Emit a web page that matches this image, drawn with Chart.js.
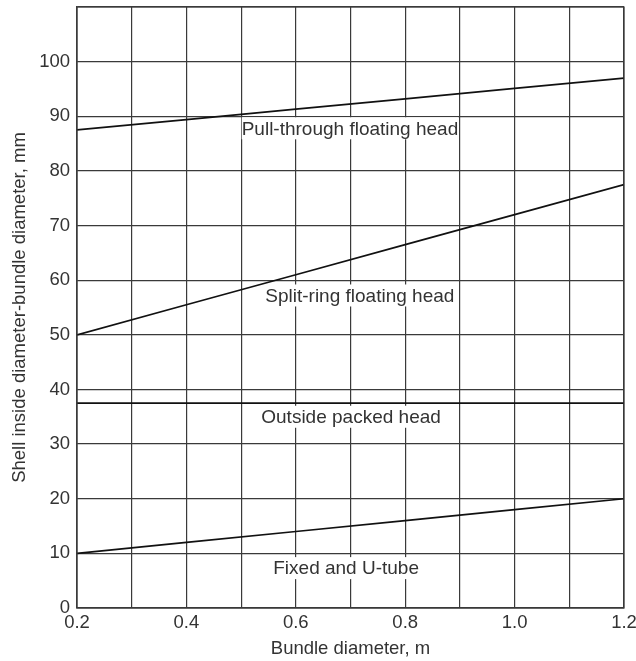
<!DOCTYPE html>
<html>
<head>
<meta charset="utf-8">
<script src="https://cdn.jsdelivr.net/npm/chart.js@4.4.1/dist/chart.umd.min.js"></script>
<style>
  html, body { margin: 0; padding: 0; background: #fff; }
  #wrap { width: 636px; height: 661px; }
</style>
</head>
<body>
<div id="wrap"><canvas id="chart" width="636" height="661"></canvas></div>
<script>
// Bundle diameter, m
const bundleDiameter = [0.2, 0.4, 0.6, 0.8, 1.0, 1.2];

// Shell inside diameter minus bundle diameter, mm
const pullThrough = [87.5, 89.4, 91.3, 93.2, 95.1, 97.0];
const splitRing = [50.0, 55.5, 61.0, 66.5, 72.0, 77.5];
const outsidePacked = [37.5, 37.5, 37.5, 37.5, 37.5, 37.5];
const fixedUTube = [10.0, 12.0, 14.0, 16.0, 18.0, 20.0];

const curveNames = [
  "Pull-through floating head",
  "Split-ring floating head",
  "Outside packed head",
  "Fixed and U-tube"
];
const curveValues = [pullThrough, splitRing, outsidePacked, fixedUTube];

const xTicks = [0.2, 0.4, 0.6, 0.8, 1.0, 1.2];
const yTicks = [0, 10, 20, 30, 40, 50, 60, 70, 80, 90, 100];

const textColor = "#333";
const gridColor = "#3a3a3a";
const fontFamily = "'Liberation Sans', Arial, Helvetica, sans-serif";

// where the curve names sit, in data units
const curveLabelSpots = [
  { x: 0.699, y: 87.8 },
  { x: 0.717, y: 57.2 },
  { x: 0.701, y: 35.0 },
  { x: 0.692, y: 7.3 }
];

// Draws the curve names on white boxes that break the grid
const curveLabels = {
  id: "curveLabels",
  afterDatasetsDraw(chart) {
    const { ctx, scales } = chart;
    ctx.save();
    ctx.font = "19px " + fontFamily;
    ctx.textAlign = "center";
    ctx.textBaseline = "middle";
    curveNames.forEach((name, i) => {
      const px = scales.x.getPixelForValue(curveLabelSpots[i].x);
      const py = scales.y.getPixelForValue(curveLabelSpots[i].y);
      const w = ctx.measureText(name).width;
      ctx.fillStyle = "#fff";
      ctx.fillRect(px - w / 2, py - 11, w, 22);
      ctx.fillStyle = textColor;
      ctx.fillText(name, px, py + 1);
    });
    ctx.restore();
  }
};

const datasets = curveValues.map((vals, i) => ({
  label: curveNames[i],
  data: bundleDiameter.map((x, j) => ({ x: x, y: vals[j] })),
  showLine: true,
  borderColor: "#111",
  borderWidth: 1.7,
  pointRadius: 0,
  tension: 0
}));

new Chart(document.getElementById("chart").getContext("2d"), {
  type: "scatter",
  data: { datasets: datasets },
  options: {
    responsive: false,
    animation: false,
    layout: { padding: { top: 7, right: 12, left: 0, bottom: 0 } },
    plugins: {
      legend: { display: false },
      tooltip: { enabled: false }
    },
    scales: {
      x: {
        type: "linear",
        min: 0.2,
        max: 1.2,
        ticks: {
          stepSize: 0.1,
          color: textColor,
          font: { family: fontFamily, size: 18.5 },
          padding: 4,
          maxRotation: 0,
          autoSkip: false,
          callback: (v) => {
            const t = xTicks.find((x) => Math.abs(x - v) < 1e-6);
            return t === undefined ? "" : t.toFixed(1);
          }
        },
        grid: { color: gridColor, lineWidth: 1.2, drawTicks: false },
        border: { color: gridColor, width: 1.2 },
        title: {
          display: true,
          text: "Bundle diameter, m",
          color: textColor,
          font: { family: fontFamily, size: 18.5 },
          padding: { top: 0, bottom: 1 }
        },
        afterFit: (scale) => {
          scale.height = 53;
          scale.paddingLeft = 0;
          scale.paddingRight = 0;
        }
      },
      y: {
        type: "linear",
        min: 0,
        max: 110,
        ticks: {
          stepSize: 10,
          color: textColor,
          font: { family: fontFamily, size: 18.5 },
          padding: 7,
          callback: (v) => (yTicks.includes(v) ? String(v) : "")
        },
        grid: { color: gridColor, lineWidth: 1.2, drawTicks: false },
        border: { color: gridColor, width: 1.2 },
        title: {
          display: true,
          text: "Shell inside diameter-bundle diameter, mm",
          color: textColor,
          font: { family: fontFamily, size: 18.5 },
          padding: { top: 9, bottom: 0 }
        },
        afterFit: (scale) => {
          scale.width = 77;
          scale.paddingTop = 0;
          scale.paddingBottom = 0;
        }
      }
    }
  },
  plugins: [curveLabels, {
    id: "frame",
    afterDraw(chart) {
      const a = chart.chartArea;
      const ctx = chart.ctx;
      ctx.save();
      ctx.strokeStyle = gridColor;
      ctx.lineWidth = 1.2;
      ctx.strokeRect(a.left, a.top, a.right - a.left, a.bottom - a.top);
      ctx.restore();
    }
  }]
});
</script>
</body>
</html>
